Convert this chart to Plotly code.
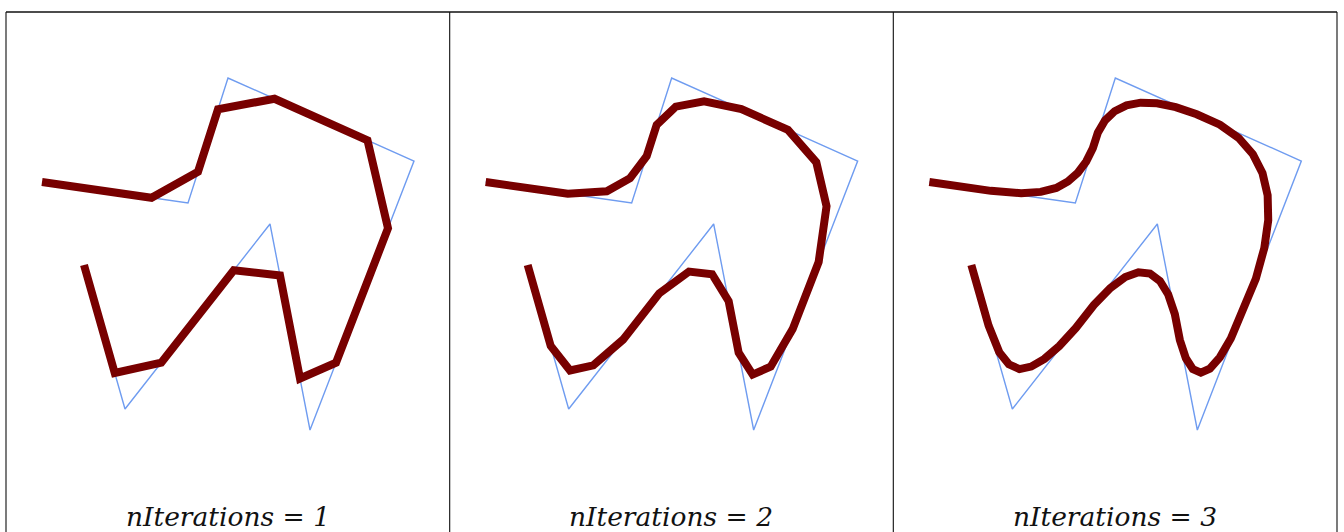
import plotly.graph_objects as go

# Control polygon (x, y in panel pixel units, y downward)
ctrl_x = [36, 182, 222, 408, 304, 264, 119, 78]
ctrl_y = [182, 203, 78, 161, 430, 224, 409, 265]
iterations = [1, 2, 3]
labels = ["nIterations = 1", "nIterations = 2", "nIterations = 3"]


def chaikin(xs, ys, n):
    pts = list(zip(xs, ys))
    for _ in range(n):
        new = [pts[0]]
        for i in range(len(pts) - 1):
            (x0, y0), (x1, y1) = pts[i], pts[i + 1]
            q = (0.75 * x0 + 0.25 * x1, 0.75 * y0 + 0.25 * y1)
            r = (0.25 * x0 + 0.75 * x1, 0.25 * y0 + 0.75 * y1)
            if i > 0:
                new.append(q)
            if i < len(pts) - 2:
                new.append(r)
        new.append(pts[-1])
        pts = new
    return [p[0] for p in pts], [p[1] for p in pts]


W, H = 1344, 532
left, right, top = 6, 1337, 12
pw = (right - left) / 3

fig = go.Figure()
layout = dict(
    width=W, height=H, margin=dict(l=0, r=0, t=0, b=0),
    paper_bgcolor="white", plot_bgcolor="white", showlegend=False,
)
shapes = []
annotations = []
for k, n in enumerate(iterations):
    ax = "" if k == 0 else str(k + 1)
    x0 = (left + k * pw) / W
    x1 = (left + (k + 1) * pw) / W
    layout["xaxis" + ax] = dict(domain=[x0, x1], range=[0, pw], visible=False, fixedrange=True)
    layout["yaxis" + ax] = dict(domain=[0, (H - top) / H], range=[H, top], visible=False,
                                fixedrange=True, anchor="x" + ax)
    layout["xaxis" + ax]["anchor"] = "y" + ax
    fig.add_trace(go.Scatter(x=ctrl_x, y=ctrl_y, mode="lines",
                             line=dict(color="#6f9cf0", width=1.4),
                             xaxis="x" + ax, yaxis="y" + ax, hoverinfo="skip"))
    sx, sy = chaikin(ctrl_x, ctrl_y, n)
    fig.add_trace(go.Scatter(x=sx, y=sy, mode="lines",
                             line=dict(color="#780000", width=8),
                             xaxis="x" + ax, yaxis="y" + ax, hoverinfo="skip"))
    annotations.append(dict(x=pw / 2, y=516, xref="x" + ax, yref="y" + ax,
                            text="<i>" + labels[k] + "</i>", showarrow=False,
                            font=dict(family="DejaVu Serif", size=26.5, color="#111111"),
                            xanchor="center", yanchor="middle"))
    # vertical border lines
    shapes.append(dict(type="line", xref="paper", yref="paper", x0=x0, x1=x0,
                       y0=0, y1=(H - top) / H, line=dict(color="#222222", width=1.2)))
shapes.append(dict(type="line", xref="paper", yref="paper", x0=right / W, x1=right / W,
                   y0=0, y1=(H - top) / H, line=dict(color="#222222", width=1.2)))
shapes.append(dict(type="line", xref="paper", yref="paper", x0=left / W, x1=right / W,
                   y0=(H - top) / H, y1=(H - top) / H, line=dict(color="#111111", width=1.5)))
layout["shapes"] = shapes
layout["annotations"] = annotations
fig.update_layout(**layout)
fig.write_html("out.html", config={"displayModeBar": False},
               post_script="document.body.style.margin='0px';document.body.style.overflow='hidden';")
